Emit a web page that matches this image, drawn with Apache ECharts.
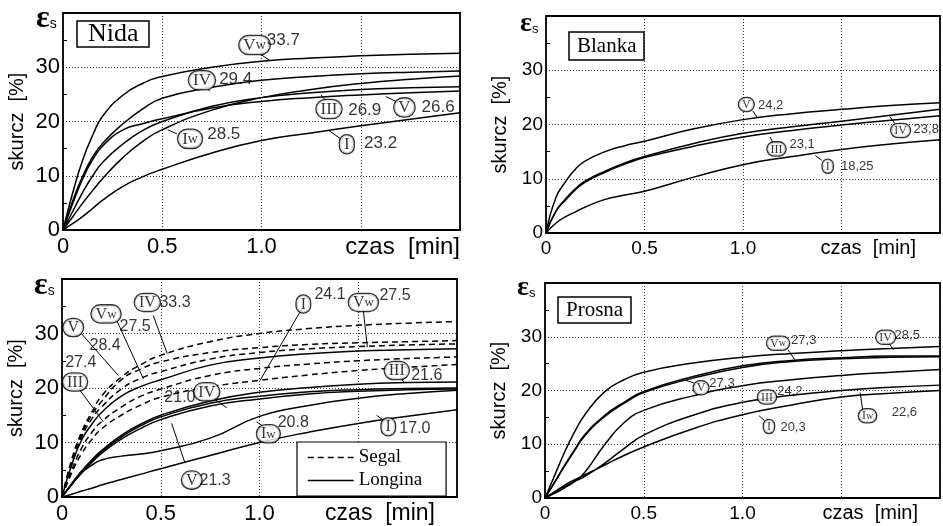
<!DOCTYPE html>
<html><head><meta charset="utf-8">
<script src="https://cdn.jsdelivr.net/npm/echarts@6/dist/echarts.min.js"></script>
<style>html,body{margin:0;padding:0;background:#fff}#c{width:943px;height:526px}</style>
</head><body><div id="c"></div>
<script>
// common time axis [min]
const T = [0,0.05,0.1,0.15,0.2,0.3,0.4,0.5,0.75,1.0,1.25,1.5,1.75,2.0];

// ---- Nida ----
const nida_Vw  = [0,7,13,17.5,21,24.8,27,28.3,30,31.1,31.7,32.1,32.4,32.6];
const nida_IV  = [0,5.5,10,13.5,16,19.5,22.3,24.3,26.3,27.6,28.3,28.8,29.1,29.3];
const nida_V   = [0,5,9.5,13,15.5,18.4,19.6,20.5,22.5,23.7,24.4,24.9,25.3,25.6];
const nida_III = [0,3.5,7,10,12.5,15.8,18.3,20,22.8,24.4,25.3,25.9,26.2,26.4];
const nida_Iw  = [0,2.5,5,7.3,9.5,13.3,16.3,18.5,22.1,24.4,25.9,27,27.8,28.4];
const nida_I   = [0,1.2,2.5,4,5.5,8,9.8,11.2,14.2,16.5,17.9,19.2,20.4,21.6];
const nidaTags = [[0.965,34.1,'Vw'],[0.70,27.6,'IV'],[1.34,22.3,'III'],[1.72,22.6,'V'],[0.64,16.8,'Iw'],[1.43,15.8,'I']];
const nidaVals = [[1.11,35.0,'33.7'],[0.87,27.8,'29.4'],[1.52,22.1,'26.9'],[1.89,22.6,'26.6'],[0.81,17.7,'28.5'],[1.60,15.9,'23.2']];
const nidaLeaders = [[[0.995,32.4],[1.04,31.3]],[[0.717,26.4],[0.739,25.6]],[[1.323,23.9],[1.30,24.9]],[[1.677,23.7],[1.626,24.6]],[[0.574,17.7],[0.527,18.5]],[[1.40,16.8],[1.34,18.3]]];

// ---- Blanka ----
const blanka_V   = [0,6.5,9.5,11.8,13.3,15,16.1,16.9,19.2,20.9,22,22.8,23.5,24.0];
const blanka_IV  = [0,4,6.3,8.2,9.6,11.4,12.9,14.1,16.5,18.4,19.6,20.6,21.7,22.8];
const blanka_III = [0,4,6.1,8,9.4,11.2,12.7,13.9,16,17.7,18.9,19.9,20.8,21.6];
const blanka_I   = [0,1.8,3,3.9,4.8,6.2,7,7.7,10.3,12.6,14.1,15.4,16.4,17.2];
const blankaTags = [[1.017,23.7,'V'],[1.80,18.9,'IV'],[1.17,15.5,'III'],[1.43,12.3,'I']];
const blankaVals = [[1.14,23.6,'24,2'],[1.93,19.1,'23,8'],[1.30,16.3,'23,1'],[1.58,12.2,'18,25']];
const blankaLeaders = [[[1.05,22.5],[1.07,21.4]],[[1.77,20.2],[1.745,21.5]],[[1.153,16.6],[1.137,17.7]],[[1.40,13.4],[1.367,14.3]]];

// ---- Segal (dashed) vs Longina (solid) ----
const segal_IV  = [0,7,12,15.5,18.5,22,24.3,26,28.5,30,30.9,31.5,31.9,32.2];
const segal_V   = [0,6.5,11.5,15,17.5,21.5,23.5,24.8,26.5,27.4,28,28.3,28.5,28.7];
const segal_Vw  = [0,6,11,14.3,16.5,19.8,21.8,23,25.3,26.5,27.2,27.6,27.9,28.1];
const segal_III = [0,5,9,11.8,13.8,16.5,18.5,19.8,22.3,23.6,24.4,25,25.4,25.7];
const segal_I   = [0,4.5,8,10.5,12.5,15,16.9,18.3,20.2,21.4,22.4,23.2,23.8,24.3];
const longina_Vw  = [0,6,10.5,13.3,15.5,18.5,20.3,21.5,24.2,25.5,26.3,26.8,27,27.2];
const longina_III = [0,2.5,4.8,6.8,8.5,11.3,13.4,15,17.6,19.2,20.1,20.7,21,21.1];
const longina_IV  = [0,2.4,4.6,6.6,8.3,11,13.1,14.7,17.2,18.5,19.3,19.7,19.9,20];
const longina_V   = [0,2.3,4.4,6.3,8,10.6,12.6,14.2,16.7,18,18.9,19.4,19.7,19.8];
const longina_Iw  = [0,2.4,4.5,5.8,6.8,7.5,7.9,8.5,10.8,14.8,16.8,18.1,19,19.6];
const longina_I   = [0,0.5,1.1,1.6,2.2,3.2,4.2,5.2,7.6,10,11.9,13.5,14.8,16];
const cmpTags = [[0.432,35.7,'IV'],[0.223,33.6,'Vw'],[0.057,31.1,'V'],[0.066,21.1,'III'],[0.733,19.3,'IV'],
                 [1.222,35.4,'I'],[1.526,35.7,'Vw'],[1.695,23.2,'III'],[1.045,11.6,'Iw'],[1.652,12.9,'I'],[0.657,3.1,'V']];
const cmpVals = [[0.572,35.7,'33.3'],[0.37,31.3,'27.5'],[0.218,27.8,'28.4'],[0.095,24.7,'27.4'],[0.597,18.2,'21.0'],
                 [1.357,37.2,'24.1'],[1.686,36.9,'27.5'],[1.847,22.3,'21.6'],[1.171,13.7,'20.8'],[1.787,12.6,'17.0'],[0.775,3.1,'21.3']];
const cmpLeaders = [[[0.462,33.3],[0.533,26.3]],[[0.277,32.4],[0.412,21.7]],[[0.10,29.9],[0.285,22.3]],[[0.091,19.6],[0.209,13.8]],
                    [[0.77,18.0],[0.834,16.4]],[[1.214,34.5],[1.003,21.4]],[[1.526,34.2],[1.546,27.5]],[[1.72,21.7],[1.73,21.1]],
                    [[1.02,12.9],[0.985,13.8]],[[1.627,14.1],[1.593,15.0]],[[0.623,6.2],[0.555,13.5]]];

// ---- Prosna ----
const prosna_IV  = [0,4.3,8.6,12.3,15.4,19.7,22,23.4,25.1,26.2,26.9,27.4,27.8,28.2];
const prosna_Vw  = [0,3,6.1,9,11.7,15.3,17.8,19.8,22.6,24.6,25.6,26.1,26.4,26.4];
const prosna_V   = [0,3,6,8.8,11.5,15.1,17.6,19.6,22.3,24.3,25.4,25.9,26.2,26.3];
const prosna_III = [0,0.9,1.9,3.1,4.7,9.8,14,16.3,19,20.9,22,22.8,23.4,23.9];
const prosna_Iw  = [0,1.1,2.1,3.1,4,6.4,9.2,11.7,15.4,17.8,19.1,20,20.6,21];
const prosna_I   = [0,1.2,2.4,3.4,4.3,6.1,7.9,9.5,12.9,15.5,17.3,18.8,19.5,20];
const prosnaTags = [[1.18,28.8,'Vw'],[1.725,29.9,'IV'],[0.79,20.5,'V'],[1.124,18.8,'III'],[1.633,15.3,'Iw'],[1.134,13.3,'I']];
const prosnaVals = [[1.31,29.4,'27,3'],[1.834,30.3,'28,5'],[0.896,21.3,'27,3'],[1.24,19.8,'24,2'],[1.82,15.9,'22,6'],[1.256,13.1,'20,3']];
const prosnaLeaders = [[[1.23,27.6],[1.265,25.7]],[[1.742,28.8],[1.764,27.6]],[[0.754,21.4],[0.712,21.9]],[[1.608,16.5],[1.596,19.6]],[[1.111,14.4],[1.084,15.3]]];

const xTickLabels = {0:'0',0.5:'0.5',1:'1.0'};
const yTickLabels = {0:'0',10:'10',20:'20',30:'30'};

const SERIF = 'Liberation Serif', SANS = 'Liberation Sans';
const zip = a => T.map((t,i)=>[t,a[i]]);

function curve(gi, name, arr, dashed){
  return {type:'line', name:name, xAxisIndex:gi, yAxisIndex:gi, data:zip(arr), smooth:0.5,
    symbol:'none', silent:true, z:3, itemStyle:{color:'#000'},
    lineStyle:{color:'#000', width:1.5, type: dashed?[6,4]:'solid'}};
}
function tags(gi, list, leaders, fs){
  return {type:'scatter', xAxisIndex:gi, yAxisIndex:gi, data:list, symbolSize:0, silent:true, z:6,
    label:{show:true, position:'inside', color:'#000', borderColor:'#000', borderWidth:1.3, borderRadius:fs,
      backgroundColor:'#fff', padding:[1,Math.round(fs*0.22),0,Math.round(fs*0.22)],
      formatter:p=>{const s=p.data[2]; return s.length>1&&s.endsWith('w')?'{a|'+s.slice(0,-1)+'}{b|w}':'{a|'+s+'}';},
      rich:{a:{fontFamily:SERIF,fontSize:fs,color:'#000'},b:{fontFamily:SERIF,fontSize:Math.round(fs*0.8),color:'#000'}}},
    markLine:{silent:true, symbol:'none', animation:false, label:{show:false},
      lineStyle:{color:'#000', width:1, type:'solid'},
      data: leaders.map(l=>[{coord:l[0]},{coord:l[1]}])}
  };
}
function vals(gi, list, fs){
  return {type:'scatter', xAxisIndex:gi, yAxisIndex:gi, data:list, symbolSize:0, silent:true, z:6,
    label:{show:true, position:'inside', color:'#000', fontFamily:SANS, fontSize:fs, formatter:p=>p.data[2]}};
}

const grids = [
  {left:63, top:13, width:397, height:217},
  {left:546, top:16, width:400, height:217},
  {left:62, top:279, width:395, height:218},
  {left:545, top:283, width:400, height:215}
];
const tickFS = [22,19,22,19], nameFS=[24,20,23,20], nameGapX=[0,-24,-22,-22], xNames=['czas  [min]','czas  [min]','czas  [min]','czas  [min]'];

const xAxes = grids.map((g,i)=>({type:'value', gridIndex:i, min:0, max:2, interval:0.5,
  axisLine:{show:false}, axisTick:{show:false},
  axisLabel:{color:'#000', fontFamily:SANS, fontSize:tickFS[i], margin:6, formatter:v=>xTickLabels[v]||''},
  splitLine:{show:true, lineStyle:{color:'#333', type:[1,2], width:1}},
  name:xNames[i], nameLocation:'end', nameGap:nameGapX[i],
  nameTextStyle:{color:'#000', fontFamily:SANS, fontSize:nameFS[i], align:'right', verticalAlign:'top', padding:[5,0,0,0]}
}));
const yAxes = grids.map((g,i)=>({type:'value', gridIndex:i, min:0, max:40, interval:10,
  axisLine:{show:false}, axisTick:{show:true, inside:true, length:0},
  minorTick:{show:true, splitNumber:2, length:4, lineStyle:{color:'#000'}},
  axisLabel:{color:'#000', fontFamily:SANS, fontSize:tickFS[i], margin:3, formatter:v=>yTickLabels[v]||''},
  splitLine:{show:true, lineStyle:{color:'#333', type:[1,2], width:1}},
  name:'skurcz  [%]', nameLocation:'middle', nameGap:36,
  nameTextStyle:{color:'#000', fontFamily:SANS, fontSize:20}
}));

function eps(left, top, fs){
  return {text:'{e|ε}{s|s}', left:left, top:top, padding:0,
    textStyle:{rich:{e:{fontFamily:SERIF, fontSize:fs, fontWeight:'bold', color:'#000'},
                     s:{fontFamily:SANS, fontSize:Math.round(fs*0.45), fontWeight:'normal', color:'#000', padding:[Math.round(fs*0.35),0,0,0]}}}};
}
function boxTitle(text, left, top, fs, pad){
  return {text:text, left:left, top:top, padding:pad, borderColor:'#000', borderWidth:1.5,
    textStyle:{fontFamily:SERIF, fontSize:fs, fontWeight:'normal', color:'#000'}};
}

const series = [
  curve(0,'Nida Vw',nida_Vw), curve(0,'Nida IV',nida_IV), curve(0,'Nida V',nida_V),
  curve(0,'Nida III',nida_III), curve(0,'Nida Iw',nida_Iw), curve(0,'Nida I',nida_I),
  tags(0,nidaTags,nidaLeaders,17), vals(0,nidaVals,17),
  curve(1,'Blanka V',blanka_V), curve(1,'Blanka IV',blanka_IV), curve(1,'Blanka III',blanka_III), curve(1,'Blanka I',blanka_I),
  tags(1,blankaTags,blankaLeaders,12), vals(1,blankaVals,13),
  curve(2,'Segal',segal_IV,true), curve(2,'Segal',segal_V,true), curve(2,'Segal',segal_Vw,true),
  curve(2,'Segal',segal_III,true), curve(2,'Segal',segal_I,true),
  curve(2,'Longina',longina_Vw), curve(2,'Longina',longina_III), curve(2,'Longina',longina_IV),
  curve(2,'Longina',longina_V), curve(2,'Longina',longina_Iw), curve(2,'Longina',longina_I),
  tags(2,cmpTags,cmpLeaders,16), vals(2,cmpVals,16),
  curve(3,'Prosna IV',prosna_IV), curve(3,'Prosna Vw',prosna_Vw), curve(3,'Prosna V',prosna_V),
  curve(3,'Prosna III',prosna_III), curve(3,'Prosna Iw',prosna_Iw), curve(3,'Prosna I',prosna_I),
  tags(3,prosnaTags,prosnaLeaders,12), vals(3,prosnaVals,13)
];

const chart = echarts.init(document.getElementById('c'), null, {renderer:'canvas'});
chart.setOption({
  animation:false,
  backgroundColor:'#fff',
  color:['#000'],
  textStyle:{fontFamily:SANS},
  grid: grids.map(g=>Object.assign({show:true, borderColor:'#000', borderWidth:1.8, backgroundColor:'transparent', z:4}, g)),
  xAxis:xAxes, yAxis:yAxes,
  title:[
    eps(36,3,32), eps(520,10,28), eps(34,270,32), eps(517,274,28),
    boxTitle('Nida',77,21,26,[0,11,0,11]),
    boxTitle('Blanka',569,32,21,[4,8,3,8]),
    boxTitle('Prosna',558,297,21,[3,8,2,8])
  ],
  legend:{data:['Segal','Longina'], left:297, top:442, orient:'vertical', itemWidth:46, itemHeight:12, itemGap:4,
    padding:[6,24,6,10], borderColor:'#000', borderWidth:1.2, backgroundColor:'#fff', borderRadius:0, z:10,
    itemStyle:{opacity:0}, lineStyle:{color:'#000', width:1.5},
    selectedMode:false, textStyle:{fontFamily:SERIF, fontSize:19, color:'#000'}},
  series:series
});
</script>
</body></html>
